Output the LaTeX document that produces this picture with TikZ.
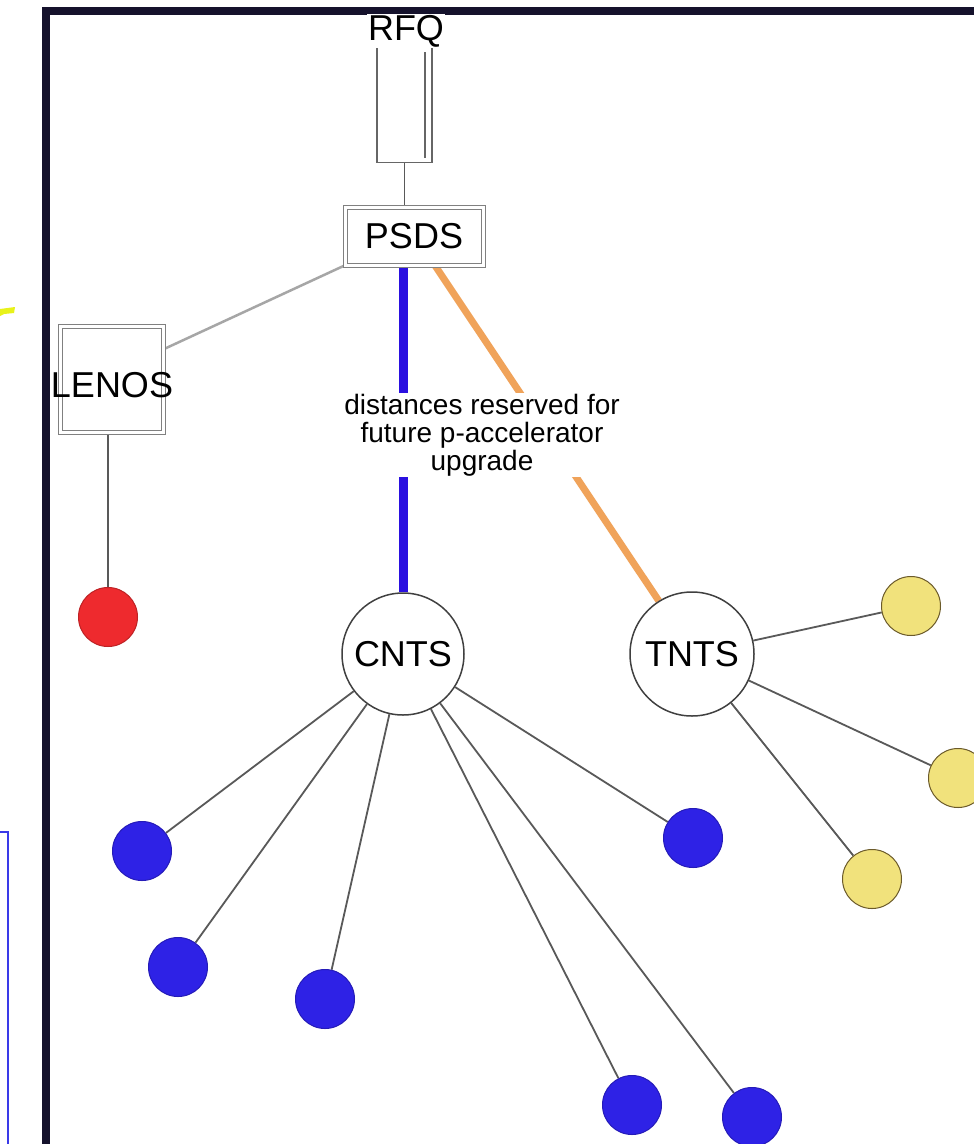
\documentclass[tikz,border=0pt]{standalone}
\usepackage{fontspec}
\setmainfont{Liberation Sans}
\usetikzlibrary{backgrounds,calc}
\definecolor{framecol}{HTML}{15122C}
\definecolor{dotblue}{HTML}{2E22E6}
\definecolor{dotred}{HTML}{EE2A2E}
\definecolor{dotyellow}{HTML}{F1E27C}
\definecolor{yline}{HTML}{6B5A2A}
\definecolor{lineblue}{HTML}{2A10E0}
\definecolor{lineorange}{HTML}{F0A35A}
\definecolor{sideblue}{HTML}{3A3AE8}
\definecolor{arrowyellow}{HTML}{E8F21A}
\tikzset{
  frameline/.style={draw=framecol, line width=8pt},
  conn/.style={draw=black!65, line width=1.8pt},
  greyconn/.style={draw=black!35, line width=2.5pt},
  blueconn/.style={draw=lineblue, line width=9pt},
  orangeconn/.style={draw=lineorange, line width=7pt},
  big/.style={font=\fontsize{36}{40}\selectfont},
  dbox/.style={rectangle, draw=black!50, double=white, double distance=3pt, line width=1pt, inner sep=0pt},
  ring/.style={circle, draw=black!75, line width=1.5pt, minimum size=122pt, inner sep=0pt, big},
  dot/.style={circle, minimum size=59pt, inner sep=0pt, line width=1pt},
  bdot/.style={dot, fill=dotblue, draw=dotblue!80!black},
  rdot/.style={dot, fill=dotred, draw=dotred!80!black},
  ydot/.style={dot, fill=dotyellow, draw=yline},
  note/.style={fill=white, inner sep=1pt, align=center, font=\fontsize{28}{28}\selectfont}
}
\begin{document}
\begin{tikzpicture}[x=1pt,y=-1pt]
\useasboundingbox (0,0) rectangle (974,1144);
\clip (0,0) rectangle (974,1144);

% frame and side fragments
\draw[frameline] (974,11) -- (46,11) -- (46,1144);
\fill[arrowyellow] (0,309) -- (15,307) -- (14,313) -- (4,314) -- (0,316) -- cycle;
\draw[sideblue, line width=2pt] (0,832) -- (8,832) -- (8,1144);

% nodes
\node[draw=black!60, line width=1.2pt, minimum width=55pt, minimum height=115pt, inner sep=0pt] (rfqbox) at (404.5,105) {};
\draw[black!60, line width=1.2pt] (425,52) -- (425,158);
\node[big, fill=white, inner sep=1pt] (rfq) at (406,31) {RFQ};
\node[dbox, big, minimum width=138pt, minimum height=58pt] (psds) at (414,236) {PSDS};
\node[dbox, minimum width=103pt, minimum height=106pt] (lenos) at (112,379) {};
\node[big] (lenostxt) at (112,385) {LENOS};
\node[rdot] (red) at (108,617) {};
\node[ring] (cnts) at (403,654) {CNTS};
\node[ring, minimum size=124pt] (tnts) at (692,654) {TNTS};
\node[bdot] (b1) at (142,851) {};
\node[bdot] (b2) at (178,967) {};
\node[bdot] (b3) at (325,999) {};
\node[bdot] (b4) at (693,838) {};
\node[bdot] (b5) at (632,1105) {};
\node[bdot] (b6) at (752,1117) {};
\node[ydot] (y1) at (911,606) {};
\node[ydot] (y2) at (958,778) {};
\node[ydot] (y3) at (872,879) {};
\node[note] (lbl) at (482,435) {distances reserved for\\future p-accelerator\\upgrade};

% connectors
\begin{pgfonlayer}{background}
\fill[white] (0,0) rectangle (974,1144);
\draw[conn] (rfqbox.south) -- (rfqbox.south |- psds.north);
\draw[greyconn] (psds.south west) -- ($(lenos.north east)!0.22!(lenos.south east)$);
\draw[conn] (red.north |- lenos.south) -- (red.north);
\draw[blueconn] (psds.south -| cnts.north) -- (cnts.north);
\draw[orangeconn] ($(psds.south)+(21,0)$) -- (tnts.122);
\draw[conn] (cnts) -- (b1);
\draw[conn] (cnts) -- (b2);
\draw[conn] (cnts) -- (b3);
\draw[conn] (cnts) -- (b4);
\draw[conn] (cnts) -- (b5);
\draw[conn] (cnts) -- (b6);
\draw[conn] (tnts) -- (y1);
\draw[conn] (tnts) -- (y2);
\draw[conn] (tnts) -- (y3);
\end{pgfonlayer}
\end{tikzpicture}
\end{document}
